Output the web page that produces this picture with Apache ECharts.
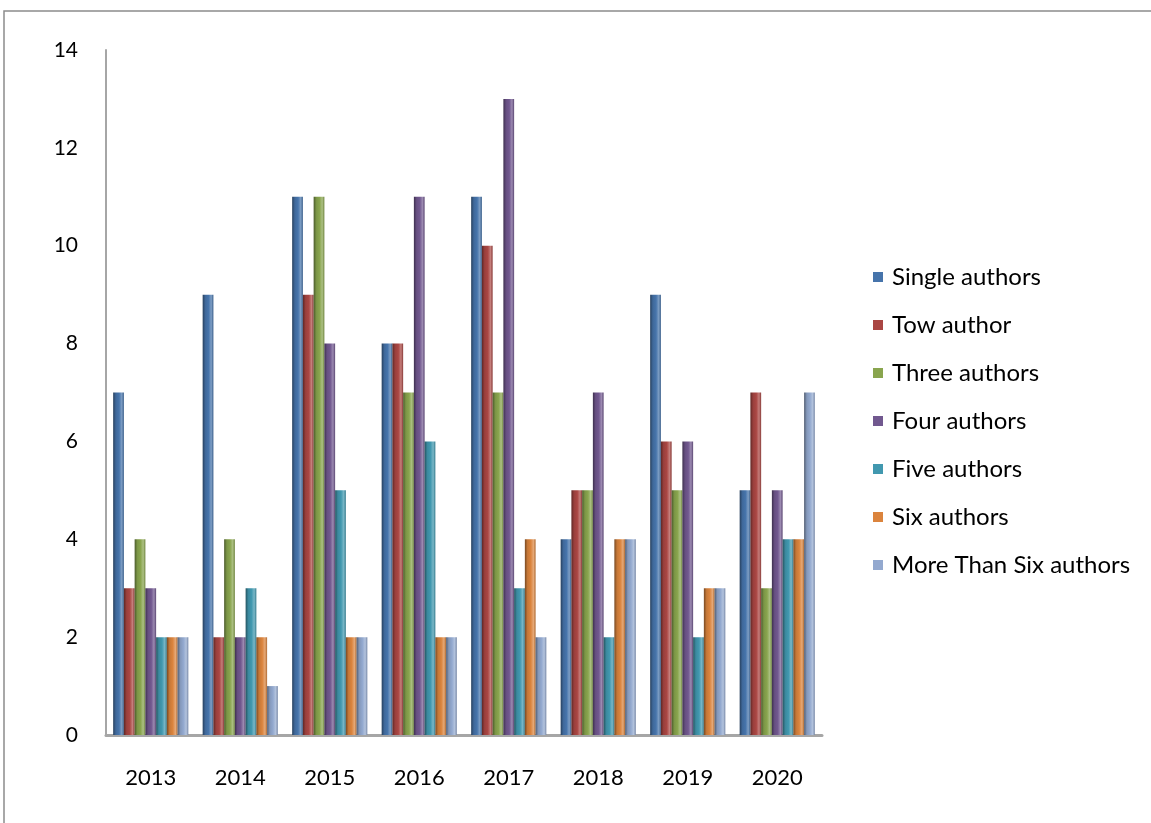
<!DOCTYPE html>
<html><head><meta charset="utf-8">
<script src="https://cdn.jsdelivr.net/npm/echarts@6/dist/echarts.min.js"></script>
<style>html,body{margin:0;padding:0;background:#fff}#c{width:1151px;height:823px}</style>
</head><body><div id="c"></div>
<script>
const categories = ['2013','2014','2015','2016','2017','2018','2019','2020'];
const seriesNames = ['Single authors','Tow author','Three authors','Four authors','Five authors','Six authors','More Than Six authors'];
const singleAuthors = [7, 9, 11, 8, 11, 4, 9, 5];
const towAuthor     = [3, 2, 9, 8, 10, 5, 6, 7];
const threeAuthors  = [4, 4, 11, 7, 7, 5, 5, 3];
const fourAuthors   = [3, 2, 8, 11, 13, 7, 6, 5];
const fiveAuthors   = [2, 3, 5, 6, 3, 2, 2, 4];
const sixAuthors    = [2, 2, 2, 2, 4, 4, 3, 4];
const moreThanSix   = [2, 1, 2, 2, 2, 4, 3, 7];
const yTicks = [0, 2, 4, 6, 8, 10, 12, 14];

const seriesData = [singleAuthors, towAuthor, threeAuthors, fourAuthors, fiveAuthors, sixAuthors, moreThanSix];
const baseColors = ['#4674AB','#AA4643','#89A54E','#71588F','#4198AF','#DB843D','#93A9CF'];

function shade(hex, f){
  const n = parseInt(hex.slice(1),16);
  let r=(n>>16)&255,g=(n>>8)&255,b=n&255;
  if(f<0){r=r*(1+f);g=g*(1+f);b=b*(1+f);}else{r=r+(255-r)*f;g=g+(255-g)*f;b=b+(255-b)*f;}
  return 'rgb('+Math.round(r)+','+Math.round(g)+','+Math.round(b)+')';
}
function cyl(hex){
  return new echarts.graphic.LinearGradient(0,0,1,0,[
    {offset:0,color:shade(hex,-0.45)},
    {offset:0.25,color:shade(hex,-0.1)},
    {offset:0.55,color:hex},
    {offset:0.8,color:shade(hex,0.3)},
    {offset:1,color:shade(hex,-0.2)}
  ]);
}
const FONT = 'Lato, "Open Sans", sans-serif';

const chart = echarts.init(document.getElementById('c'));
chart.setOption({
  animation:false,
  backgroundColor:'#fff',
  color: baseColors,
  graphic:[{type:'rect',shape:{x:4,y:11,width:1200,height:900},style:{fill:'none',stroke:'#8c8c8c',lineWidth:1.5},z:-1}],
  legend:{
    orient:'vertical', left:868, top:260,
    itemWidth:10, itemHeight:10, itemGap:24,
    icon:'rect',
    textStyle:{fontFamily:FONT, fontSize:24, lineHeight:24, color:'#000', padding:[0,0,0,4]},
    data: seriesNames.map((n,i)=>({name:n, itemStyle:{color:baseColors[i]}}))
  },
  grid:{left:106, right:329, top:50, bottom:88},
  xAxis:{
    type:'category', data:categories,
    axisLine:{lineStyle:{color:'#a6a6a6', width:3}},
    axisTick:{show:false},
    axisLabel:{color:'#000', fontSize:22, fontFamily:FONT, margin:32}
  },
  yAxis:{
    type:'value', min:0, max:14, interval:2,
    axisLine:{show:true, lineStyle:{color:'#a6a6a6', width:2}},
    axisTick:{show:false},
    splitLine:{show:false},
    axisLabel:{color:'#000', fontSize:21, fontFamily:FONT, margin:28,
      formatter:v=> yTicks.includes(v)? String(v):''}
  },
  series: seriesData.map((d,i)=>({
    name:seriesNames[i], type:'bar', data:d,
    barGap:'0%', barCategoryGap:'16%',
    itemStyle:{color:cyl(baseColors[i])}
  }))
});
</script></body></html>
